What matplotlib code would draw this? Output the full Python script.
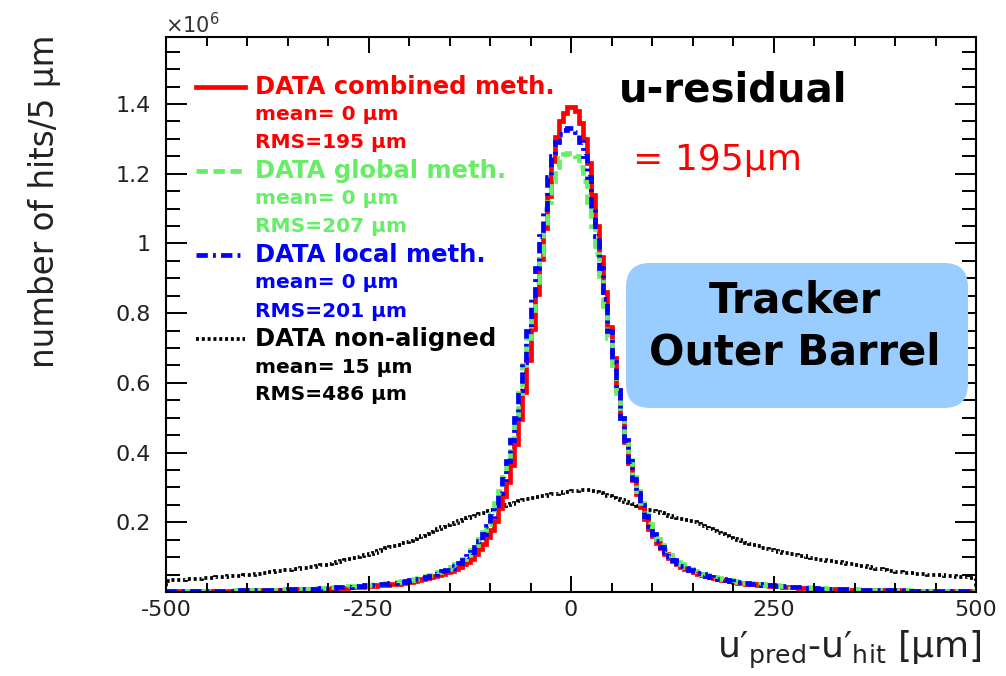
import numpy as np
import matplotlib.pyplot as plt
from matplotlib.lines import Line2D
from matplotlib.patches import FancyBboxPatch
from matplotlib.transforms import IdentityTransform
from matplotlib.ticker import MultipleLocator, FixedLocator, FuncFormatter

plt.rcParams['font.family'] = ['DejaVu Sans']
plt.rcParams['axes.unicode_minus'] = False
plt.rcParams['mathtext.default'] = 'regular'

# 5 um bins from -500 to 500, contents in units of 1e6 hits
bin_edges = np.arange(-500, 505, 5)

combined = [
    0.002, 0.002, 0.002, 0.002, 0.002, 0.003, 0.003, 0.003, 0.003, 0.003,
    0.003, 0.003, 0.003, 0.004, 0.004, 0.004, 0.004, 0.004, 0.004, 0.005,
    0.005, 0.005, 0.005, 0.005, 0.006, 0.006, 0.006, 0.006, 0.007, 0.007,
    0.007, 0.007, 0.008, 0.008, 0.008, 0.009, 0.009, 0.009, 0.010, 0.010,
    0.010, 0.011, 0.011, 0.012, 0.012, 0.013, 0.013, 0.014, 0.015, 0.016,
    0.017, 0.018, 0.019, 0.020, 0.021, 0.022, 0.023, 0.024, 0.026, 0.028,
    0.030, 0.032, 0.034, 0.036, 0.039, 0.042, 0.045, 0.048, 0.052, 0.056,
    0.061, 0.066, 0.072, 0.079, 0.087, 0.096, 0.108, 0.122, 0.138, 0.157,
    0.178, 0.205, 0.240, 0.275, 0.315, 0.365, 0.425, 0.495, 0.575, 0.665,
    0.755, 0.855, 0.955, 1.045, 1.135, 1.235, 1.305, 1.350, 1.375, 1.390,
    1.390, 1.380, 1.345, 1.300, 1.230, 1.140, 1.050, 0.960, 0.860, 0.760,
    0.670, 0.580, 0.500, 0.430, 0.370, 0.320, 0.280, 0.245, 0.210, 0.180,
    0.160, 0.140, 0.125, 0.110, 0.098, 0.088, 0.080, 0.073, 0.067, 0.062,
    0.057, 0.053, 0.049, 0.046, 0.043, 0.040, 0.037, 0.035, 0.033, 0.031,
    0.029, 0.027, 0.026, 0.024, 0.023, 0.022, 0.021, 0.020, 0.019, 0.018,
    0.017, 0.016, 0.015, 0.014, 0.013, 0.013, 0.012, 0.012, 0.011, 0.011,
    0.010, 0.010, 0.009, 0.009, 0.009, 0.008, 0.008, 0.008, 0.007, 0.007,
    0.007, 0.007, 0.006, 0.006, 0.006, 0.006, 0.005, 0.005, 0.005, 0.005,
    0.005, 0.004, 0.004, 0.004, 0.004, 0.004, 0.004, 0.003, 0.003, 0.003,
    0.003, 0.003, 0.003, 0.003, 0.002, 0.002, 0.002, 0.002, 0.002, 0.002,
]

global_meth = [
    0.002, 0.002, 0.002, 0.003, 0.003, 0.003, 0.003, 0.003, 0.003, 0.004,
    0.004, 0.004, 0.004, 0.004, 0.004, 0.005, 0.005, 0.005, 0.005, 0.005,
    0.006, 0.006, 0.006, 0.006, 0.007, 0.007, 0.007, 0.007, 0.008, 0.008,
    0.008, 0.009, 0.009, 0.009, 0.010, 0.010, 0.011, 0.011, 0.012, 0.012,
    0.013, 0.013, 0.014, 0.014, 0.015, 0.016, 0.017, 0.018, 0.019, 0.020,
    0.021, 0.022, 0.023, 0.024, 0.025, 0.026, 0.027, 0.029, 0.031, 0.033,
    0.035, 0.037, 0.039, 0.042, 0.045, 0.048, 0.052, 0.056, 0.061, 0.066,
    0.072, 0.079, 0.087, 0.096, 0.107, 0.120, 0.135, 0.152, 0.172, 0.195,
    0.225, 0.255, 0.290, 0.330, 0.380, 0.440, 0.500, 0.570, 0.650, 0.730,
    0.810, 0.890, 0.970, 1.050, 1.120, 1.180, 1.220, 1.245, 1.255, 1.260,
    1.260, 1.250, 1.220, 1.180, 1.120, 1.050, 0.970, 0.890, 0.810, 0.730,
    0.650, 0.570, 0.500, 0.440, 0.380, 0.330, 0.290, 0.255, 0.225, 0.195,
    0.172, 0.152, 0.135, 0.120, 0.107, 0.096, 0.087, 0.079, 0.072, 0.066,
    0.061, 0.056, 0.052, 0.048, 0.045, 0.042, 0.039, 0.037, 0.035, 0.033,
    0.031, 0.029, 0.027, 0.026, 0.025, 0.024, 0.023, 0.022, 0.021, 0.020,
    0.019, 0.018, 0.017, 0.016, 0.015, 0.014, 0.014, 0.013, 0.013, 0.012,
    0.012, 0.011, 0.011, 0.010, 0.010, 0.009, 0.009, 0.009, 0.008, 0.008,
    0.008, 0.007, 0.007, 0.007, 0.007, 0.006, 0.006, 0.006, 0.006, 0.005,
    0.005, 0.005, 0.005, 0.005, 0.004, 0.004, 0.004, 0.004, 0.004, 0.004,
    0.003, 0.003, 0.003, 0.003, 0.003, 0.003, 0.003, 0.002, 0.002, 0.002,
]

local_meth = [
    0.002, 0.002, 0.002, 0.002, 0.002, 0.003, 0.003, 0.003, 0.003, 0.003,
    0.003, 0.004, 0.004, 0.004, 0.004, 0.004, 0.004, 0.005, 0.005, 0.005,
    0.005, 0.005, 0.006, 0.006, 0.006, 0.006, 0.007, 0.007, 0.007, 0.007,
    0.008, 0.008, 0.008, 0.009, 0.009, 0.010, 0.010, 0.010, 0.011, 0.011,
    0.012, 0.012, 0.013, 0.014, 0.014, 0.015, 0.016, 0.017, 0.018, 0.019,
    0.020, 0.021, 0.022, 0.023, 0.024, 0.025, 0.027, 0.028, 0.030, 0.032,
    0.034, 0.036, 0.038, 0.041, 0.044, 0.047, 0.051, 0.055, 0.059, 0.064,
    0.070, 0.076, 0.084, 0.092, 0.103, 0.116, 0.130, 0.146, 0.165, 0.188,
    0.217, 0.250, 0.285, 0.325, 0.375, 0.435, 0.500, 0.580, 0.660, 0.750,
    0.840, 0.930, 1.020, 1.100, 1.190, 1.250, 1.290, 1.315, 1.325, 1.330,
    1.330, 1.320, 1.290, 1.250, 1.190, 1.100, 1.020, 0.930, 0.840, 0.750,
    0.660, 0.580, 0.500, 0.435, 0.375, 0.325, 0.285, 0.250, 0.217, 0.188,
    0.165, 0.146, 0.130, 0.116, 0.103, 0.092, 0.084, 0.076, 0.070, 0.064,
    0.059, 0.055, 0.051, 0.047, 0.044, 0.041, 0.038, 0.036, 0.034, 0.032,
    0.030, 0.028, 0.027, 0.025, 0.024, 0.023, 0.022, 0.021, 0.020, 0.019,
    0.018, 0.017, 0.016, 0.015, 0.014, 0.014, 0.013, 0.012, 0.012, 0.011,
    0.011, 0.010, 0.010, 0.010, 0.009, 0.009, 0.008, 0.008, 0.008, 0.007,
    0.007, 0.007, 0.007, 0.006, 0.006, 0.006, 0.006, 0.005, 0.005, 0.005,
    0.005, 0.005, 0.004, 0.004, 0.004, 0.004, 0.004, 0.004, 0.003, 0.003,
    0.003, 0.003, 0.003, 0.003, 0.003, 0.002, 0.002, 0.002, 0.002, 0.002,
]

non_aligned = [
    0.032, 0.033, 0.034, 0.034, 0.035, 0.036, 0.037, 0.038, 0.038, 0.039,
    0.040, 0.041, 0.042, 0.043, 0.044, 0.045, 0.045, 0.046, 0.047, 0.048,
    0.049, 0.050, 0.052, 0.053, 0.055, 0.056, 0.057, 0.059, 0.060, 0.062,
    0.063, 0.065, 0.066, 0.068, 0.070, 0.071, 0.073, 0.075, 0.077, 0.078,
    0.080, 0.083, 0.086, 0.089, 0.092, 0.094, 0.097, 0.100, 0.103, 0.106,
    0.109, 0.113, 0.117, 0.121, 0.125, 0.128, 0.132, 0.136, 0.140, 0.144,
    0.147, 0.152, 0.157, 0.162, 0.167, 0.172, 0.177, 0.181, 0.186, 0.191,
    0.195, 0.199, 0.203, 0.207, 0.211, 0.215, 0.219, 0.223, 0.227, 0.231,
    0.235, 0.239, 0.242, 0.246, 0.249, 0.253, 0.256, 0.260, 0.263, 0.267,
    0.270, 0.272, 0.274, 0.276, 0.278, 0.280, 0.282, 0.284, 0.286, 0.288,
    0.290, 0.291, 0.292, 0.293, 0.292, 0.290, 0.287, 0.283, 0.279, 0.275,
    0.271, 0.267, 0.263, 0.259, 0.255, 0.251, 0.247, 0.243, 0.239, 0.236,
    0.233, 0.229, 0.226, 0.222, 0.219, 0.215, 0.212, 0.209, 0.206, 0.203,
    0.200, 0.195, 0.190, 0.185, 0.180, 0.175, 0.170, 0.165, 0.160, 0.156,
    0.152, 0.148, 0.145, 0.141, 0.138, 0.134, 0.131, 0.127, 0.124, 0.121,
    0.118, 0.116, 0.113, 0.111, 0.109, 0.106, 0.104, 0.102, 0.099, 0.097,
    0.095, 0.093, 0.091, 0.090, 0.088, 0.086, 0.085, 0.083, 0.081, 0.080,
    0.078, 0.076, 0.074, 0.072, 0.070, 0.067, 0.065, 0.063, 0.061, 0.059,
    0.057, 0.056, 0.055, 0.055, 0.054, 0.053, 0.052, 0.051, 0.050, 0.049,
    0.049, 0.048, 0.047, 0.046, 0.045, 0.044, 0.043, 0.042, 0.041, 0.040,
]

legend_titles = ['DATA combined meth.', 'DATA global meth.', 'DATA local meth.', 'DATA non-aligned']
legend_means = ['mean= 0 µm', 'mean= 0 µm', 'mean= 0 µm', 'mean= 15 µm']
legend_rms = ['RMS=195 µm', 'RMS=207 µm', 'RMS=201 µm', 'RMS=486 µm']

W, H = 1006, 676
def P(x, y):
    return (x / W, 1 - y / H)

fig = plt.figure(figsize=(W / 100, H / 100), dpi=100)
ax = fig.add_axes([166 / W, 1 - 592 / H, (976 - 166) / W, (592 - 37) / H])

red, green, blue, black = '#ff0000', '#66ee66', '#0000ff', '#000000'
styles = [
    dict(color=red, lw=3.4, ls='-'),
    dict(color=green, lw=3.4, ls=(0, (2.4, 1.2))),
    dict(color=blue, lw=3.4, ls=(0, (2.4, 1.1, 0.6, 1.1))),
    dict(color=black, lw=2.7, ls=(0, (0.8, 0.75))),
]

ax.stairs(non_aligned, bin_edges, **styles[3])
ax.stairs(combined, bin_edges, **styles[0])
ax.stairs(global_meth, bin_edges, **styles[1])
ax.stairs(local_meth, bin_edges, **styles[2])

ax.set_xlim(-500, 500)
ax.set_ylim(0, 1.592)
ax.xaxis.set_major_locator(MultipleLocator(250))
ax.xaxis.set_minor_locator(MultipleLocator(50))
ax.yaxis.set_major_locator(FixedLocator(np.arange(0, 1.6, 0.2)))
ax.yaxis.set_minor_locator(MultipleLocator(0.05))
ax.yaxis.set_major_formatter(FuncFormatter(lambda v, p: '' if abs(v) < 1e-9 else f'{round(v, 2):g}'))
ax.xaxis.set_major_formatter(FuncFormatter(lambda v, p: f'{int(round(v))}'))
ax.tick_params(axis='both', which='both', direction='in', top=True, right=True,
               width=1.4, colors='black', labelcolor='#222222', labelsize=16)
ax.tick_params(axis='y', which='major', length=15, pad=11)
ax.tick_params(axis='y', which='minor', length=10)
ax.tick_params(axis='x', which='major', length=11.5, pad=6)
ax.tick_params(axis='x', which='minor', length=6.5)
for s in ax.spines.values():
    s.set_linewidth(1.5)

# axis titles
fig.text(*P(45, 35), 'number of hits/5 µm', rotation=90, ha='center', va='top',
         fontsize=23.5, color='#222222')
fig.text(*P(982, 658), 'u′$_{pred}$-u′$_{hit}$ [µm]', ha='right', va='baseline',
         fontsize=26, color='#222222')
fig.text(*P(165, 33), r'$\times10^{6}$', ha='left', va='baseline', fontsize=15, color='#333333')

# legend
ys = [87 + 28 * i for i in range(12)]
for i in range(4):
    st = styles[i]
    y0 = ys[3 * i]
    fig.add_artist(Line2D([196 / W, 245 / W], [1 - y0 / H] * 2, color=st['color'],
                          lw=st['lw'], ls=st['ls']))
    fig.text(*P(255, y0), legend_titles[i], ha='left', va='center', fontsize=17.5,
             fontweight='bold', color=st['color'])
    fig.text(*P(255, ys[3 * i + 1]), legend_means[i], ha='left', va='center', fontsize=14.5,
             fontweight='bold', color=st['color'])
    fig.text(*P(255, ys[3 * i + 2]), legend_rms[i], ha='left', va='center', fontsize=14.5,
             fontweight='bold', color=st['color'])

# annotations
fig.text(*P(619, 102), 'u-residual', ha='left', va='baseline', fontsize=29,
         fontweight='bold', color='black')
fig.text(*P(633, 160), '= 195µm', ha='left', va='center', fontsize=26, color=red)

box = FancyBboxPatch((626, H - 408), 968 - 626, 408 - 263,
                     boxstyle='round,pad=0,rounding_size=24',
                     transform=IdentityTransform(), facecolor='#99ccff', edgecolor='none')
fig.add_artist(box)
fig.text(*P(795, 300), 'Tracker', ha='center', va='center', fontsize=30,
         fontweight='bold', color='black')
fig.text(*P(795, 353), 'Outer Barrel', ha='center', va='center', fontsize=30,
         fontweight='bold', color='black')

fig.savefig('out.png', dpi=100)
